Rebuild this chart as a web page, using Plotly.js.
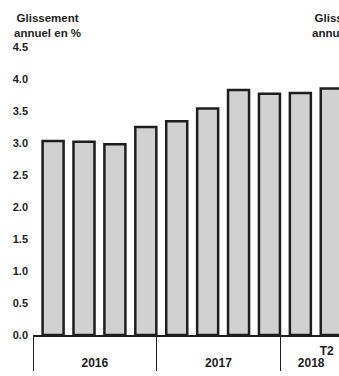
<!DOCTYPE html>
<html><head><meta charset="utf-8">
<script src="https://cdn.plot.ly/plotly-3.0.1.min.js"></script>
<style>html,body{margin:0;padding:0;background:#fff;} #chart{width:339px;height:376px;}</style>
</head><body><div id="chart"></div>
<script>
// Data
const years = ["2016","2016","2016","2016","2017","2017","2017","2017","2018","2018"];
const quarterLabels = [" ","  ","   ","    "," ","  ","   ","    "," ","T2"];
const values = [3.03, 3.02, 2.98, 3.25, 3.34, 3.54, 3.83, 3.77, 3.78, 3.85];
const yTickVals = [0, 0.5, 1, 1.5, 2, 2.5, 3, 3.5, 4, 4.5];
const titleText = "Glissement<br>annuel en %";

const FONT = "'Liberation Sans Narrow', 'Arial Narrow', 'Liberation Sans', Arial, sans-serif";
const INK = "#1e1e1e";

const trace = {
  type: "bar",
  x: [years, quarterLabels],
  y: values,
  width: 0.68,
  offset: -0.19,
  marker: {color: "#d1d1d1", line: {color: INK, width: 2.5}},
  hoverinfo: "skip"
};

const titleFont = {family: FONT, size: 11.5, color: INK, weight: "bold"};

const layout = {
  width: 339, height: 376,
  margin: {l: 33, r: 0, t: 47, b: 41},
  paper_bgcolor: "#fff", plot_bgcolor: "#fff",
  showlegend: false,
  font: {family: FONT, size: 11, color: INK, weight: "bold"},
  xaxis: {
    type: "multicategory",
    range: [-0.5, 9.4],
    showline: true, linecolor: INK, linewidth: 1.5,
    showgrid: false, zeroline: false, ticks: "",
    showdividers: true, dividercolor: INK, dividerwidth: 1,
    ticklabelstandoff: 4,
    tickfont: {family: FONT, size: 12, color: INK, weight: "bold"},
    fixedrange: true
  },
  yaxis: {
    range: [0, 4.5],
    tickvals: yTickVals,
    tickformat: ".1f",
    showgrid: false, zeroline: false, showline: false, ticks: "",
    ticklabelstandoff: 4,
    tickfont: {family: FONT, size: 11, color: INK, weight: "bold"},
    fixedrange: true
  },
  annotations: [{
    text: titleText,
    xref: "paper", yref: "paper",
    x: (47-33)/306, xanchor: "center",
    y: 1 + (47-10)/288, yanchor: "top",
    align: "center", showarrow: false,
    font: titleFont
  }, {
    text: titleText,
    xref: "paper", yref: "paper",
    x: (310-33)/306, xanchor: "left",
    y: 1 + (47-10)/288, yanchor: "top",
    align: "center", showarrow: false,
    font: titleFont
  }]
};

Plotly.newPlot("chart", [trace], layout, {displayModeBar: false, staticPlot: true});
</script>
</body></html>
